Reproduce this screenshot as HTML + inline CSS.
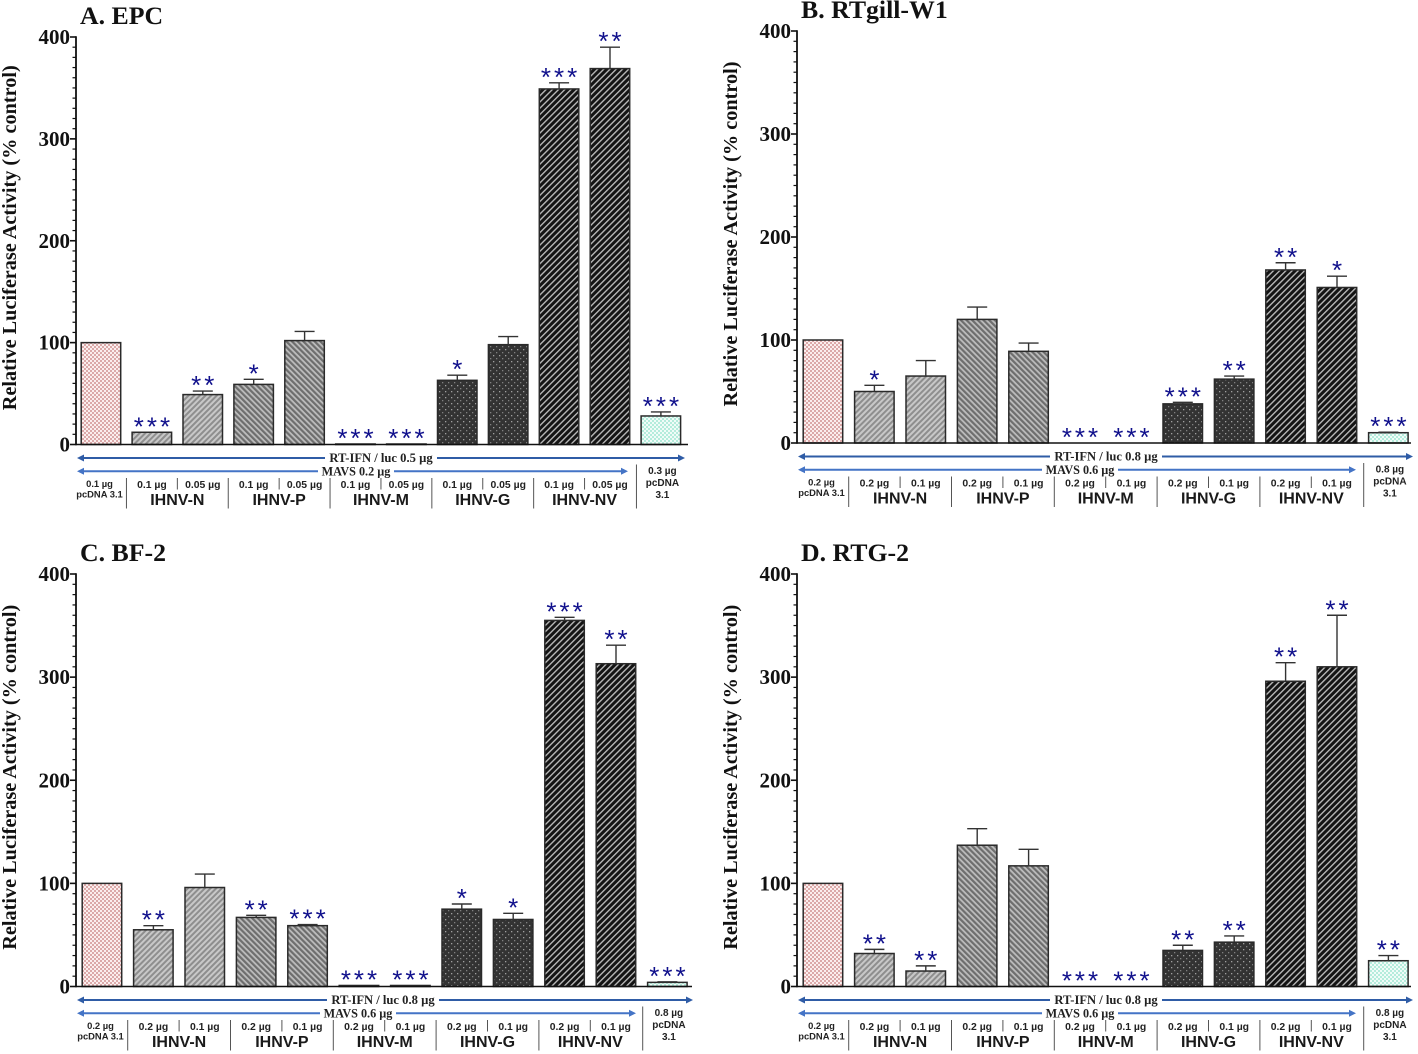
<!DOCTYPE html>
<html lang="en">
<head>
<meta charset="utf-8">
<title>Relative Luciferase Activity</title>
<style>
html,body{margin:0;padding:0;background:#fff;width:1418px;height:1054px;overflow:hidden}
svg{display:block}
text{font-family:"Liberation Sans",sans-serif}
.serif{font-family:"Liberation Serif",serif;font-weight:bold}
</style>
</head>
<body>
<svg id="figure" xmlns="http://www.w3.org/2000/svg" width="1418" height="1054" viewBox="0 0 1418 1054">
<defs>
<pattern id="p-ctrl" width="4" height="4" patternUnits="userSpaceOnUse"><rect width="4" height="4" fill="#fbeeee"/><rect width="2" height="2" fill="#dba9a9"/><rect x="2" y="2" width="2" height="2" fill="#dba9a9"/></pattern>
<pattern id="p-n" width="4" height="4" patternUnits="userSpaceOnUse" patternTransform="rotate(45)"><rect width="4" height="4" fill="#c8c8c8"/><rect width="2" height="4" fill="#8e8e8e"/></pattern>
<pattern id="p-p" width="4" height="4" patternUnits="userSpaceOnUse" patternTransform="rotate(-45)"><rect width="4" height="4" fill="#bdbdbd"/><rect width="2.2" height="4" fill="#6e6e6e"/></pattern>
<pattern id="p-g" width="6" height="6" patternUnits="userSpaceOnUse"><rect width="6" height="6" fill="#333"/><rect x="1" y="1" width="1.3" height="1.3" fill="#a0a0a0"/><rect x="4" y="4" width="1.3" height="1.3" fill="#808080"/></pattern>
<pattern id="p-nv" width="4.4" height="4.4" patternUnits="userSpaceOnUse" patternTransform="rotate(45)"><rect width="4.4" height="4.4" fill="#141414"/><rect width="1.35" height="4.4" fill="#bcbcbc"/></pattern>
<pattern id="p-pc" width="4" height="4" patternUnits="userSpaceOnUse"><rect width="4" height="4" fill="#f0fcf8"/><rect width="2" height="2" fill="#b4ecdc"/><rect x="2" y="2" width="2" height="2" fill="#b4ecdc"/></pattern>
</defs>
</svg>
<script>
var tickLabels = [0, 100, 200, 300, 400];
var groupNames = ['IHNV-N', 'IHNV-P', 'IHNV-M', 'IHNV-G', 'IHNV-NV'];
var barFills = ['p-ctrl', 'p-n', 'p-n', 'p-p', 'p-p', 'p-n', 'p-n', 'p-g', 'p-g', 'p-nv', 'p-nv', 'p-pc'];

var epcValues = [100, 12, 49, 59, 102, 0.5, 0.5, 63, 98, 349, 369, 28];
var epcErrors = [0, 0, 3.5, 5, 9, 0, 0, 5, 8, 6, 21, 4];
var epcStars = [0, 3, 2, 1, 0, 3, 3, 1, 0, 3, 2, 3];
var epcDoses = ['0.1 µg', '0.05 µg', '0.3 µg', '0.1 µg'];

var gillValues = [100, 50, 65, 120, 89, 0, 0, 38, 62, 168, 151, 10];
var gillErrors = [0, 6, 15, 12, 8, 0, 0, 1.5, 3, 7, 11, 0.5];
var gillStars = [0, 1, 0, 0, 0, 3, 3, 3, 2, 2, 1, 3];
var gillDoses = ['0.2 µg', '0.1 µg', '0.8 µg', '0.2 µg'];

var bfValues = [100, 55, 96, 67, 59, 1, 1, 75, 65, 355, 313, 4];
var bfErrors = [0, 4, 13, 2, 1, 0, 0, 5, 6, 3, 18, 0.5];
var bfStars = [0, 2, 0, 2, 3, 3, 3, 1, 1, 3, 2, 3];
var bfDoses = ['0.2 µg', '0.1 µg', '0.8 µg', '0.2 µg'];

var rtgValues = [100, 32, 15, 137, 117, 0, 0, 35, 43, 296, 310, 25];
var rtgErrors = [0, 4, 5, 16, 16, 0, 0, 5, 6, 18, 50, 5];
var rtgStars = [0, 2, 2, 0, 0, 3, 3, 2, 2, 2, 2, 2];
var rtgDoses = ['0.2 µg', '0.1 µg', '0.8 µg', '0.2 µg'];

var svg = document.getElementById('figure');
var NS = 'http://www.w3.org/2000/svg';

function make(parent, tag, props, content) {
  var node = document.createElementNS(NS, tag);
  for (var k in props) { node.setAttribute(k, props[k]); }
  if (content !== undefined) { node.textContent = content; }
  parent.appendChild(node);
  return node;
}

function drawPanel(cfg) {
  var panel = make(svg, 'g', {});
  
  

  var yScale = function (v) { return cfg.y0 - (v / 400) * (cfg.y0 - cfg.y400); };
  var xLeft = function (i) { return cfg.bar0 + i * cfg.step; };
  var xMid = function (i) { return xLeft(i) + cfg.barW / 2; };

  var title = make(panel, 'text', {x: cfg.axisX + 4, y: cfg.titleY, 'class': 'serif', 'font-size': 25.8, fill: '#111'}, cfg.title);
  
  

  var yTitleY = (cfg.y0 + cfg.y400) / 2 - 3;
  var yTitle = make(panel, 'text', {x: 0, y: 0, transform: 'translate(' + (cfg.axisX - 60) + ',' + yTitleY + ') rotate(-90)', 'class': 'serif', 'font-size': 19.5, fill: '#111', 'text-anchor': 'middle', textLength: 345, lengthAdjust: 'spacingAndGlyphs'}, 'Relative Luciferase Activity (% control)');
  
  

  // bars, error bars, significance stars
  cfg.values.forEach(function (v, i) {
    var top = yScale(v);
    if (v > 0) {
      var bar = make(panel, 'rect', {x: xLeft(i) + 0.2, y: top, width: cfg.barW - 0.5, height: cfg.y0 - top, fill: 'url(#' + barFills[i] + ')', stroke: '#2a2a2a', 'stroke-width': 1.5});
      
      
    }
    var errTop = yScale(v + cfg.errors[i]);
    if (cfg.errors[i] > 0) {
      var err = make(panel, 'path', {d: 'M' + xMid(i) + ' ' + top + 'V' + errTop + 'M' + (xMid(i) - 10) + ' ' + errTop + 'H' + (xMid(i) + 10), stroke: '#333', 'stroke-width': 1.4, fill: 'none'});
      
      
    }
    if (cfg.stars[i] > 0) {
      var s = '';
      for (var n = 0; n < cfg.stars[i]; n++) { s += '*'; }
      var star = make(panel, 'text', {x: xMid(i) + 1.5, y: errTop + 3, 'font-size': 26, 'letter-spacing': 3, fill: '#10108c', 'text-anchor': 'middle'}, s);
      
      
    }
  });

  // axes
  var yAxis = make(panel, 'line', {x1: cfg.axisX, x2: cfg.axisX, y1: cfg.y400 - 0.7, y2: cfg.y0 + 0.8, stroke: '#111', 'stroke-width': 1.8});
  
  
  var xAxis = make(panel, 'line', {x1: cfg.axisX, x2: cfg.axisEnd, y1: cfg.y0, y2: cfg.y0, stroke: '#111', 'stroke-width': 1.6});
  
  

  for (var t = 0; t <= 400; t += 10) {
    var major = t % 100 === 0;
    var tick = make(panel, 'line', {x1: cfg.axisX - (major ? 6 : 3.5), x2: cfg.axisX, y1: yScale(t), y2: yScale(t), stroke: '#111', 'stroke-width': major ? 1.6 : 1.2});
    
    
  }
  tickLabels.forEach(function (t) {
    var lab = make(panel, 'text', {x: cfg.axisX - 6, y: yScale(t) + 7, 'class': 'serif', 'font-size': 21, fill: '#111', 'text-anchor': 'end'}, t);
    
    
  });

  // arrows
  var rowA = cfg.y0 + 13.5, rowB = cfg.y0 + 26.8;
  var arrowDefs = [
    {y: rowA, end: cfg.arrowEndA, mid: cfg.textA, half: 56, color: '#2f5ca6', label: cfg.labelA, name: 'rt-ifn-arrow', size: 12.6},
    {y: rowB, end: cfg.arrowEndB, mid: cfg.textB, half: 38, color: '#4474c6', label: cfg.labelB, name: 'mavs-arrow', size: 12.2}
  ];
  arrowDefs.forEach(function (a) {
    var x0 = cfg.axisX + 1;
    var arrow = make(panel, 'path', {d: 'M' + (x0 + 6) + ' ' + a.y + 'H' + (a.mid - a.half) + 'M' + (a.mid + a.half) + ' ' + a.y + 'H' + (a.end - 6), stroke: a.color, 'stroke-width': 2, fill: 'none'});
    
    
    var headL = make(panel, 'path', {d: 'M' + x0 + ' ' + a.y + 'l7 -3.5v7z', fill: a.color});
    
    
    var headR = make(panel, 'path', {d: 'M' + a.end + ' ' + a.y + 'l-7 -3.5v7z', fill: a.color});
    
    
    var txt = make(panel, 'text', {x: a.mid, y: a.y + 4, 'class': 'serif', 'font-size': a.size, fill: '#222', 'text-anchor': 'middle'}, a.label);
    
    
  });

  // control label
  var ctrlX = xMid(0) - 1.5;
  var c1 = make(panel, 'text', {x: ctrlX, y: cfg.y0 + 42.5, 'font-size': 9.4, 'font-weight': 'bold', fill: '#222', 'text-anchor': 'middle'}, cfg.doses[3]);
  
  
  var c2 = make(panel, 'text', {x: ctrlX, y: cfg.y0 + 53, 'font-size': 9.4, 'font-weight': 'bold', fill: '#222', 'text-anchor': 'middle'}, 'pcDNA 3.1');
  
  

  // group labels and separators
  var groupIdx = 0;
  for (var i = 1; i < 11; i += 2) {
    var sepMajor = make(panel, 'line', {x1: xMid(i) - cfg.step / 2, x2: xMid(i) - cfg.step / 2, y1: cfg.y0 + 33.5, y2: cfg.y0 + 64, stroke: '#555', 'stroke-width': 1});
    
    
    var sepMinor = make(panel, 'line', {x1: xMid(i) + cfg.step / 2, x2: xMid(i) + cfg.step / 2, y1: cfg.y0 + 33.5, y2: cfg.y0 + 45, stroke: '#555', 'stroke-width': 1});
    
    
    var d1 = make(panel, 'text', {x: xMid(i), y: cfg.y0 + 43.5, 'font-size': 10.4, 'font-weight': 'bold', fill: '#222', 'text-anchor': 'middle'}, cfg.doses[0]);
    
    
    var d2 = make(panel, 'text', {x: xMid(i + 1), y: cfg.y0 + 43.5, 'font-size': 10.4, 'font-weight': 'bold', fill: '#222', 'text-anchor': 'middle'}, cfg.doses[1]);
    
    
    var g = make(panel, 'text', {x: xMid(i) + cfg.step / 2, y: cfg.y0 + 60.5, 'font-size': 16, 'font-weight': 'bold', fill: '#1a1a1a', 'text-anchor': 'middle'}, groupNames[groupIdx]);
    
    
    groupIdx++;
  }
  var lastSepX = xMid(11) - cfg.step / 2 + 1;
  var lastSep = make(panel, 'line', {x1: lastSepX, x2: lastSepX, y1: cfg.y0 + 20, y2: cfg.y0 + 64, stroke: '#555', 'stroke-width': 1});
  
  
  var rightLines = [cfg.doses[2], 'pcDNA', '3.1'];
  rightLines.forEach(function (line, k) {
    var rl = make(panel, 'text', {x: xMid(11) + 1.5, y: cfg.y0 + 29.5 + k * 12, 'font-size': 10, 'font-weight': 'bold', fill: '#222', 'text-anchor': 'middle'}, line);
    
    
  });
}

drawPanel({key: 'epc', title: 'A. EPC', titleY: 24, axisX: 76, axisEnd: 688, y0: 444.5, y400: 37, bar0: 81, step: 50.9, barW: 40,
  values: epcValues, errors: epcErrors, stars: epcStars, doses: epcDoses,
  arrowEndA: 685, arrowEndB: 628, textA: 381, textB: 356, labelA: 'RT-IFN / luc 0.5 µg', labelB: 'MAVS 0.2 µg'});
drawPanel({key: 'rtgill', title: 'B. RTgill-W1', titleY: 18, axisX: 797, axisEnd: 1411, y0: 443, y400: 31, bar0: 803, step: 51.4, barW: 40,
  values: gillValues, errors: gillErrors, stars: gillStars, doses: gillDoses,
  arrowEndA: 1413, arrowEndB: 1356, textA: 1106, textB: 1080, labelA: 'RT-IFN / luc 0.8 µg', labelB: 'MAVS 0.6 µg'});
drawPanel({key: 'bf2', title: 'C. BF-2', titleY: 561, axisX: 76, axisEnd: 692, y0: 986.5, y400: 574, bar0: 82, step: 51.4, barW: 40,
  values: bfValues, errors: bfErrors, stars: bfStars, doses: bfDoses,
  arrowEndA: 693, arrowEndB: 636, textA: 383, textB: 358, labelA: 'RT-IFN / luc 0.8 µg', labelB: 'MAVS 0.6 µg'});
drawPanel({key: 'rtg2', title: 'D. RTG-2', titleY: 561, axisX: 797, axisEnd: 1411, y0: 986.5, y400: 574, bar0: 803, step: 51.4, barW: 40,
  values: rtgValues, errors: rtgErrors, stars: rtgStars, doses: rtgDoses,
  arrowEndA: 1413, arrowEndB: 1356, textA: 1106, textB: 1080, labelA: 'RT-IFN / luc 0.8 µg', labelB: 'MAVS 0.6 µg'});
</script>
</body>
</html>
